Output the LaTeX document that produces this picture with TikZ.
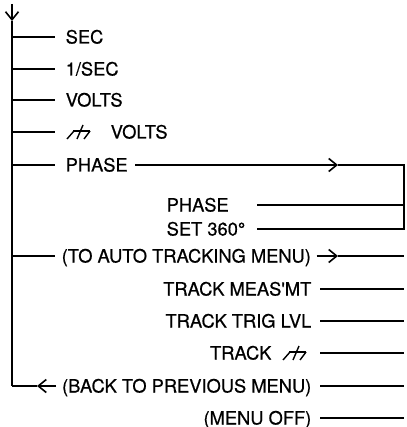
\documentclass[tikz,border=0pt]{standalone}
\usepackage{fontspec}
\setmainfont{TeX Gyre Heros}
\newfontfamily\hvm{TeX Gyre Heros}[FakeBold=0.6]
\usetikzlibrary{arrows.meta}
\begin{document}
\begin{tikzpicture}[x=1pt,y=-1pt,line width=1.4pt,
  lbl/.style={inner sep=0pt,text height=13pt,text depth=0pt,font=\hvm\fontsize{18.3}{20}\selectfont},
  tipr/.style={-{Straight Barb[length=8pt,width=13pt,line width=1.6pt]}},
  gnd/.pic={
    \draw[line width=1.4pt] (-6,-3) -- (11,-3);
    \draw[line width=1.4pt] (-12,5) -- (-5,-3);
    \draw[line width=1.4pt] (-2,5) -- (4,-9);
    \draw[line width=1.4pt] (5,5) -- (11,-3);
  }]
\useasboundingbox (0,0) rectangle (406,427);
% trunk
\coordinate (top) at (12,4);
\coordinate (toptip) at (12,21);
\coordinate (corner) at (12,386);
\coordinate (rtop) at (404,165);
\coordinate (rbot) at (404,229);
\coordinate (sub) at (257,0);
\coordinate (phtip) at (338,165);
\coordinate (atip) at (338,256);
\coordinate (btip) at (37,386);
\draw[tipr] (top) -- (toptip);
\draw (toptip) -- (corner);
% left items
\node[lbl,anchor=west] (sec) at (65,37) {SEC};
\node[lbl,anchor=west] (isec) at (65,69) {1/SEC};
\node[lbl,anchor=west] (volts) at (65,100) {VOLTS};
\node[lbl,anchor=west] (gvolts) at (110,132) {VOLTS};
\pic at (79,134) {gnd};
\node[lbl,anchor=west] (phase) at (65,165) {PHASE};
\node[lbl,anchor=west] (auto) at (61,256) {(TO AUTO TRACKING MENU)};
\foreach \n in {sec,isec,volts,phase,auto}
  \draw (\n.west -| corner) -- ([xshift=-10pt]\n.west -| 65,0);
\draw (gvolts.west -| corner) -- ++(43,0);
% phase submenu
\node[lbl,anchor=west] (phaseA) at (166,205) {PHASE};
\node[lbl,anchor=west] (set) at (166,229) {SET 360°};
\draw[tipr] ([xshift=7pt]phase.east) -- (phtip);
\draw (phtip) -- (rtop) -- (rbot) -- (set.east -| sub);
\draw (phaseA.east -| sub) -- (phaseA.east -| rtop);
% auto tracking
\draw[tipr] ([xshift=5pt]auto.east) -- (atip);
\draw (atip) -- (auto.east -| rtop);
\node[lbl,anchor=east] (tmeas) at (312,289) {TRACK MEAS'MT};
\node[lbl,anchor=east] (ttrig) at (312,321) {TRACK TRIG LVL};
\node[lbl,anchor=east] (tgnd) at (272,353) {TRACK};
\pic at (295,355) {gnd};
\node[lbl,anchor=east] (back) at (312,386) {(BACK TO PREVIOUS MENU)};
\node[lbl,anchor=east] (moff) at (312,418) {(MENU OFF)};
\foreach \n in {tmeas,ttrig,back,moff}
  \draw ([xshift=8pt]\n.east) -- (\n.east -| rtop);
\draw (tgnd.east -| 320,0) -- (tgnd.east -| rtop);
% back arrow
\draw[tipr] (back.west -| 56,0) -- (btip);
\draw (btip) -- (corner);
\end{tikzpicture}
\end{document}
